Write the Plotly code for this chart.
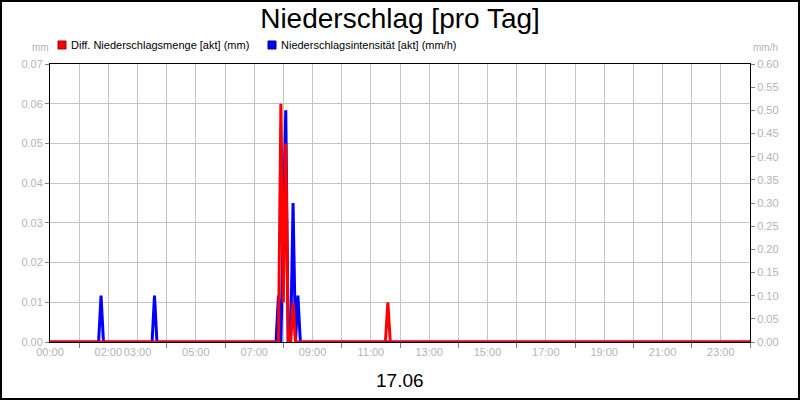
import plotly.graph_objects as go

# Tag und Zeitachse
tag = "2023-06-17"
naechster_tag = "2023-06-18"

# Diff. Niederschlagsmenge [akt] (mm) - linke Achse
menge_zeit = ["00:00", "07:50", "07:55", "08:00", "08:05", "08:10", "08:15",
              "08:20", "08:25", "11:30", "11:35", "11:40"]
menge_wert = [0.0, 0.0, 0.06, 0.01, 0.05, 0.0, 0.0,
              0.01, 0.0, 0.0, 0.01, 0.0]

# Niederschlagsintensität [akt] (mm/h) - rechte Achse
intens_zeit = ["00:00", "01:40", "01:45", "01:50", "03:30", "03:35", "03:40",
               "07:45", "07:50", "07:55", "08:05", "08:10", "08:15", "08:20",
               "08:25", "08:30", "08:35"]
intens_wert = [0.0, 0.0, 0.1, 0.0, 0.0, 0.1, 0.0,
               0.0, 0.1, 0.0, 0.5, 0.0, 0.0, 0.3,
               0.0, 0.1, 0.0]

# Achsenbeschriftung
label_stunden = [0, 2, 3, 5, 7, 9, 11, 13, 15, 17, 19, 21, 23]
strich_stunden = [1, 4, 6, 8, 10, 12, 14, 16, 18, 20, 22, 24]

legende = [("Diff. Niederschlagsmenge [akt] (mm)", "#ff0000", "#a00000"),
           ("Niederschlagsintensität [akt] (mm/h)", "#0000ff", "#000080")]


def zeitpunkt(t):
    return f"{tag} {t}"


def stunde(h):
    if h == 24:
        return f"{naechster_tag} 00:00"
    return f"{tag} {h:02d}:00"


grau = "#b4b4b4"
gitter = "#c4c4c4"
schrift = "Liberation Sans, Arial, sans-serif"

# Pixel -> Papier-Koordinaten (Plotfläche 50..750 x 64..342)
def px_x(p):
    return (p - 50) / 700


def px_y(p):
    return (342 - p) / 278


fig = go.Figure()

# blau auf der Basisachse (rechts), rot auf der überlagerten Achse (links, liegt oben)
fig.add_trace(go.Scatter(
    x=[zeitpunkt(t) for t in intens_zeit] + [f"{naechster_tag} 00:00"],
    y=intens_wert + [0.0], yaxis="y", mode="lines",
    line=dict(color="#0000ff", width=3), showlegend=False))
fig.add_trace(go.Scatter(
    x=[zeitpunkt(t) for t in menge_zeit] + [f"{naechster_tag} 00:00"],
    y=menge_wert + [0.0], yaxis="y2", mode="lines",
    line=dict(color="#ff0000", width=3), showlegend=False))

# Legende von Hand
shapes = [dict(type="rect", xref="paper", yref="paper",
               x0=px_x(-49 + 50), x1=px_x(749 + 50) , y0=px_y(399), y1=px_y(1),
               line=dict(color="black", width=2), fillcolor="rgba(0,0,0,0)")]
annotations = []
for (name, farbe, rand), x0 in zip(legende, [58, 268]):
    shapes.append(dict(type="rect", xref="paper", yref="paper",
                       x0=px_x(x0), x1=px_x(x0 + 8), y0=px_y(49), y1=px_y(41),
                       line=dict(color=rand, width=1), fillcolor=farbe))
    annotations.append(dict(text=name, xref="paper", yref="paper",
                            x=px_x(x0 + 11), y=px_y(45), showarrow=False,
                            xanchor="left", yanchor="middle",
                            font=dict(size=11, color="black")))

annotations += [
    dict(text="mm", xref="paper", yref="paper", x=px_x(40), y=px_y(48),
         showarrow=False, xanchor="center", yanchor="middle",
         font=dict(size=10, color=grau)),
    dict(text="mm/h", xref="paper", yref="paper", x=px_x(765), y=px_y(48),
         showarrow=False, xanchor="center", yanchor="middle",
         font=dict(size=10, color=grau)),
    dict(text="17.06", xref="paper", yref="paper", x=0.5, y=px_y(380),
         showarrow=False, xanchor="center", yanchor="middle",
         font=dict(size=19, color="black")),
]

fig.update_layout(
    width=800, height=400,
    margin=dict(l=50, r=50, t=64, b=58, autoexpand=False),
    paper_bgcolor="white", plot_bgcolor="white",
    font=dict(family=schrift, size=11, color=grau),
    title=dict(text="Niederschlag [pro Tag]", x=0.5, xref="container",
               y=1 - 18 / 400, yanchor="middle",
               font=dict(family=schrift, size=28, color="black")),
    showlegend=False,
    xaxis=dict(
        type="date", range=[stunde(0), stunde(24)],
        tickmode="array", tickvals=[stunde(h) for h in label_stunden],
        ticktext=[f"{h:02d}:00" for h in label_stunden], tickangle=0,
        ticks="", showgrid=True, gridcolor=gitter, gridwidth=1,
        minor=dict(tickvals=[stunde(h) for h in strich_stunden],
                   ticks="outside", ticklen=5, tickcolor="#808080",
                   showgrid=True, gridcolor=gitter, gridwidth=1),
        showline=True, linecolor="black", linewidth=1, mirror=True,
        tickfont=dict(size=11, color=grau), zeroline=False),
    yaxis=dict(
        range=[0, 0.6], dtick=0.05, tickformat=".2f",
        side="right", showgrid=False,
        ticks="outside", ticklen=4, tickcolor="#808080",
        showline=True, linecolor="black", linewidth=1,
        tickfont=dict(size=11, color=grau), zeroline=False),
    yaxis2=dict(
        range=[0, 0.07], dtick=0.01, tickformat=".2f",
        overlaying="y", side="left",
        showgrid=True, gridcolor=gitter, gridwidth=1,
        ticks="outside", ticklen=4, tickcolor="#808080",
        showline=True, linecolor="black", linewidth=1,
        tickfont=dict(size=11, color=grau), zeroline=False),
    annotations=annotations,
    shapes=shapes,
)

fig.write_html("out.html", config={"displayModeBar": False},
               post_script="document.body.style.margin='0';")
